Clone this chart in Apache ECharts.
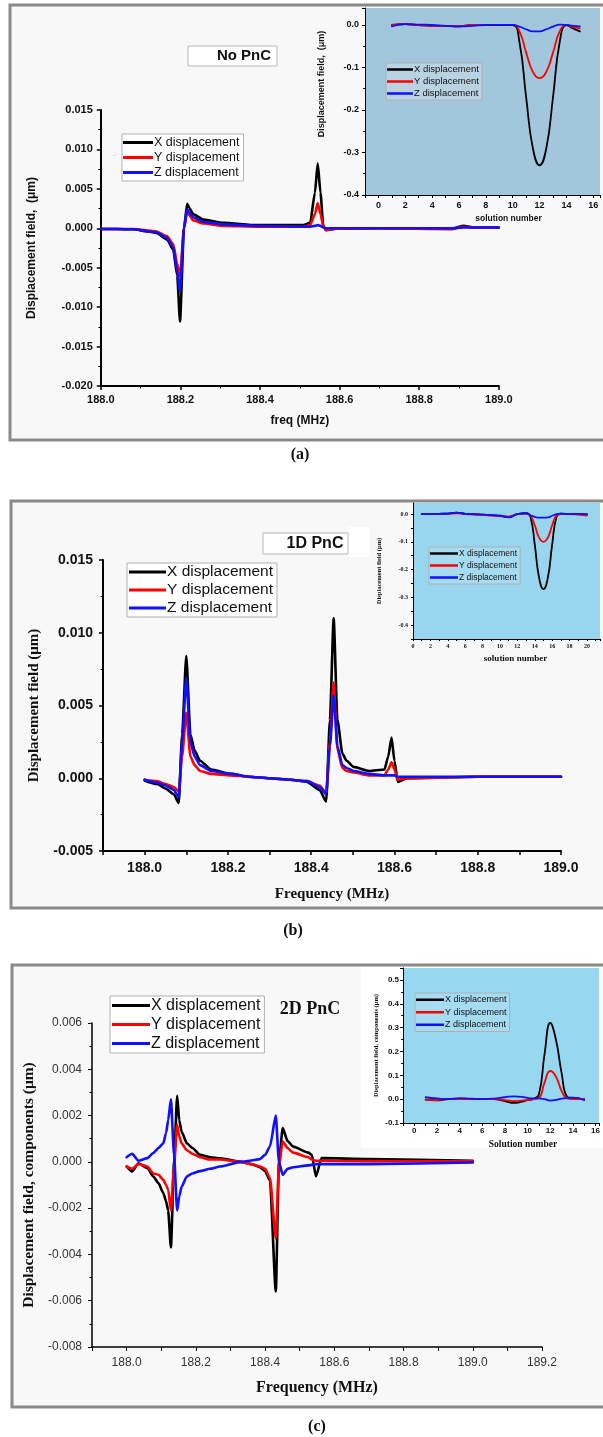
<!DOCTYPE html>
<html><head><meta charset="utf-8">
<script src="https://cdn.jsdelivr.net/npm/echarts@6/dist/echarts.min.js"></script>
<style>html,body{margin:0;padding:0;background:#fff}#c{width:603px;height:1437px}</style>
</head><body><div id="c"></div>
<script>
// ---------- DATA ----------
const seriesNames = ['X displacement', 'Y displacement', 'Z displacement'];
const panelTitles = ['No PnC', '1D PnC', '2D PnC'];
const panelLabels = ['(a)', '(b)', '(c)'];

// Panel (a) main: frequency (MHz) vs displacement (um)
const freqA = [188.0, 188.04, 188.082, 188.12, 188.14, 188.166, 188.182, 188.192, 188.199, 188.209, 188.217, 188.222, 188.232, 188.258, 188.308, 188.392, 188.509, 188.526, 188.538, 188.545, 188.552, 188.559, 188.566, 188.59, 188.7, 188.88, 188.91, 188.94, 189.0];
const xA = [-0.0001, -0.0001, -0.00013, -0.0004, -0.0006, -0.0014, -0.0027, -0.006, -0.0118, 0.0, 0.0031, 0.0026, 0.0018, 0.0011, 0.0007, 0.0004, 0.0004, 0.0007, 0.0045, 0.0082, 0.0045, 0.0003, -0.00025, -0.00005, 0.0, -0.0001, 0.0003, 0.0001, 0.0001];
const yA = [-0.0001, -0.0001, -0.0001, -0.0003, -0.0004, -0.001, -0.002, -0.0045, -0.0061, 0.0, 0.0021, 0.0017, 0.001, 0.0006, 0.0003, 0.0002, 0.0002, 0.0004, 0.0018, 0.0032, 0.0018, 0.0003, -0.0002, -0.00005, 0.0, -0.0001, 0.0002, 0.0001, 0.0001];
const zA = [-0.0001, -0.0001, -0.00013, -0.0004, -0.0005, -0.0012, -0.0024, -0.0055, -0.008, 0.0, 0.0024, 0.002, 0.0014, 0.0008, 0.0005, 0.0003, 0.0002, 0.0002, 0.0003, 0.0004, 0.0003, 0.0001, 0.0, 0.0, 0.0, 0.0, 0.0001, 0.0001, 0.0001];

// Panel (a) inset: solution number
const solA = [1, 2, 3, 4, 5, 6, 7, 8, 9, 10, 10.5, 11, 11.5, 12, 12.5, 13, 13.5, 14, 14.5, 15];
const xSolA = [0, 0.002, 0, -0.002, -0.002, -0.003, 0, 0, 0, 0, -0.04, -0.17, -0.29, -0.33, -0.29, -0.17, -0.04, 0, -0.008, -0.015];
const ySolA = [0, 0.002, 0, -0.002, -0.002, -0.003, 0, 0, 0, 0, -0.015, -0.065, -0.11, -0.125, -0.11, -0.065, -0.015, 0, -0.005, -0.008];
const zSolA = [-0.003, 0.002, 0.001, 0, -0.002, -0.003, -0.002, 0, 0, 0, -0.004, -0.01, -0.015, -0.015, -0.01, -0.004, 0.001, 0, -0.002, -0.003];

// Panel (b) main
const freqB = [188.0, 188.03, 188.05, 188.07, 188.082, 188.09, 188.1, 188.11, 188.12, 188.133, 188.16, 188.207, 188.25, 188.3, 188.35, 188.39, 188.42, 188.436, 188.445, 188.454, 188.463, 188.475, 188.485, 188.502, 188.539, 188.576, 188.585, 188.593, 188.6, 188.608, 188.63, 188.8, 189.0];
const xB = [-0.00015, -0.0004, -0.0007, -0.0011, -0.0017, 0.003, 0.0084, 0.003, 0.0019, 0.0012, 0.0006, 0.0003, 0.0001, 0.0, -0.0001, -0.00025, -0.0008, -0.0016, 0.004, 0.011, 0.004, 0.0017, 0.0012, 0.00078, 0.0005, 0.0006, 0.0015, 0.0028, 0.0012, -0.00025, 0.0, 0.0001, 0.0001];
const yB = [-0.0001, -0.0002, -0.0004, -0.0006, -0.0009, 0.0015, 0.0045, 0.0015, 0.0009, 0.0005, 0.0003, 0.0002, 0.0001, 0.0, -0.0001, -0.0002, -0.0005, -0.001, 0.0025, 0.0066, 0.002, 0.0007, 0.0005, 0.0004, 0.0002, 0.0002, 0.0006, 0.0011, 0.0006, -0.0001, 0.0, 0.0001, 0.0001];
const zB = [-0.0001, -0.0003, -0.0005, -0.0008, -0.0013, 0.0025, 0.0069, 0.0025, 0.0015, 0.0009, 0.0005, 0.0003, 0.0001, 0.0, -0.0001, -0.0002, -0.0006, -0.0011, 0.0022, 0.0057, 0.0022, 0.0009, 0.0007, 0.0005, 0.0003, 0.0002, 0.0002, 0.0002, 0.0002, 0.0001, 0.0001, 0.0001, 0.0001];

// Panel (b) inset
const solB = [1, 2, 3, 4, 5, 6, 7, 8, 9, 10, 11, 12, 13, 13.5, 14, 14.5, 15, 15.5, 16, 16.5, 17, 18, 19, 20];
const xSolB = [0, 0, 0.001, 0.002, 0.005, 0.001, 0, -0.002, -0.004, -0.006, -0.01, 0, 0.003, -0.01, -0.11, -0.23, -0.27, -0.23, -0.11, -0.01, 0.002, 0, 0, -0.002];
const ySolB = [0, 0, 0.001, 0.001, 0.003, 0, -0.002, -0.003, -0.005, -0.007, -0.009, 0, 0.002, -0.005, -0.04, -0.085, -0.1, -0.085, -0.04, -0.005, 0, 0, -0.002, -0.005];
const zSolB = [0, 0, 0.001, 0.002, 0.005, 0.001, 0, -0.002, -0.004, -0.006, -0.012, 0, 0.003, -0.004, -0.01, -0.013, -0.013, -0.012, -0.006, 0, 0.002, 0, 0.001, 0];

// Panel (c) main
const freqC = [188.0, 188.016, 188.034, 188.06, 188.077, 188.092, 188.106, 188.114, 188.12, 188.128, 188.137, 188.146, 188.152, 188.159, 188.174, 188.19, 188.212, 188.241, 188.27, 188.33, 188.36, 188.385, 188.4, 188.414, 188.431, 188.44, 188.451, 188.465, 188.481, 188.525, 188.535, 188.547, 188.563, 188.7, 189.0];
const xC = [-0.0002, -0.00042, -0.00006, -0.00027, -0.00063, -0.00092, -0.00135, -0.0017, -0.0021, -0.0037, 0.0, 0.00285, 0.0018, 0.0013, 0.0008, 0.0006, 0.0003, 0.0002, 0.00015, 0.0, -0.0001, -0.00023, -0.0004, -0.0008, -0.0056, 0.0, 0.00146, 0.0009, 0.00066, 0.0004, 0.0003, -0.00063, 0.00016, 0.00012, 0.00005];
const yC = [-0.0002, -0.0003, -0.0001, -0.0002, -0.0005, -0.00056, -0.00078, -0.001, -0.0012, -0.0021, -0.0002, 0.0016, 0.0011, 0.0008, 0.0005, 0.00035, 0.0002, 0.0001, 0.0001, 0.0, -0.0001, -0.0002, -0.0003, -0.0007, -0.0033, -0.0002, 0.00088, 0.0006, 0.0004, 0.0002, 0.0001, 0.00005, 0.00005, 0.00003, 0.00002];
const zC = [0.0002, 0.00035, 0.00005, 0.00016, 0.00038, 0.0006, 0.0008, 0.00125, 0.0018, 0.0027, 0.0003, -0.0021, -0.0015, -0.00107, -0.00063, -0.0005, -0.0004, -0.0003, -0.0002, 0.0, 0.00006, 0.00012, 0.0003, 0.00066, 0.002, 0.0, -0.00056, -0.0003, -0.00023, -0.00015, -0.00013, -0.0001, -0.0001, -0.0001, -0.00003];

// Panel (c) inset
const solC = [1, 2, 3, 4, 5, 6, 7, 8, 8.8, 9.5, 10, 10.5, 11, 11.5, 12, 12.5, 13, 13.5, 14, 15];
const xSolC = [-0.002, -0.005, 0, 0, 0, 0, 0, -0.008, -0.016, -0.01, -0.004, 0, 0.02, 0.19, 0.32, 0.25, 0.11, 0.01, 0.005, 0];
const ySolC = [-0.002, -0.004, 0, 0, 0, 0, 0, -0.004, -0.008, -0.006, -0.003, 0, 0.005, 0.07, 0.118, 0.095, 0.035, 0.003, 0, 0];
const zSolC = [0.008, 0.003, 0, 0.004, 0.002, 0, 0.002, 0.008, 0.012, 0.01, 0.005, 0.003, 0.003, 0, -0.006, -0.003, 0.002, 0.004, 0.006, -0.004];

// ---------- STYLE / BUILD ----------
const SANS = '"Liberation Sans", Arial, Helvetica, sans-serif';
const SERIF = '"Liberation Serif", "Times New Roman", serif';
const COLORS = ['#000000', '#ff0000', '#1010ff'];

function fmtFixed(d) {
  return v => (Math.abs(v) < 1e-12 ? 0 : v).toFixed(d);
}
function evenTenth(v) {
  const r = Math.round(v * 10);
  if (Math.abs(v * 10 - r) > 1e-6) return '';
  return (r % 2 === 0) ? (r / 10).toFixed(1) : '';
}
function evenInt(v) {
  const r = Math.round(v);
  if (Math.abs(v - r) > 1e-6) return '';
  return (r % 2 === 0) ? String(r) : '';
}
function tenthOnly(v) {
  const r = Math.round(v * 10);
  if (Math.abs(v * 10 - r) > 1e-6) return '';
  return (r / 10).toFixed(1);
}

function axis(gridIndex, o) {
  const lw = o.lw || 1.5;
  return {
    type: 'value', gridIndex: gridIndex, min: o.min, max: o.max, interval: o.interval,
    axisLine: { onZero: false, lineStyle: { color: '#000', width: lw } },
    axisTick: { show: true, length: o.tickLen || 4, inside: false, lineStyle: { color: '#000', width: Math.max(1, lw - 0.5) } },
    minorTick: o.minor ? { show: true, splitNumber: o.minor, length: (o.tickLen || 4) * 0.6, lineStyle: { color: '#000', width: 1 } } : { show: false },
    splitLine: { show: false },
    axisLabel: {
      formatter: o.fmt, margin: o.margin, color: o.labelColor || '#111',
      fontFamily: o.labelFont || SANS, fontWeight: o.labelWeight || 'bold', fontSize: o.labelSize,
      showMaxLabel: o.showMax !== false, showMinLabel: true, hideOverlap: false
    },
    name: o.name, nameLocation: 'middle', nameGap: o.nameGap, nameRotate: o.nameRotate,
    nameTextStyle: { fontFamily: o.nameFont || SANS, fontWeight: 'bold', fontSize: o.nameSize, color: '#111', padding: o.namePad || 0 }
  };
}

function lineSeries(idx, name, color, xs, ys, width, smooth, monotone) {
  const s = {
    type: 'line', name: name, xAxisIndex: idx, yAxisIndex: idx,
    data: xs.map((x, i) => [x, ys[i]]),
    showSymbol: false, symbol: 'none', smooth: smooth || false,
    lineStyle: { color: color, width: width, join: 'round', cap: 'round' }, itemStyle: { color: color },
    emphasis: { disabled: true }, silent: true, animation: false, z: 3
  };
  if (monotone) s.smoothMonotone = 'x';
  return s;
}

const panels = [
  { xs: freqA, ys: [xA, yA, zA], w: 2.6, smooth: 0.2, mono: true },
  { xs: solA, ys: [xSolA, ySolA, zSolA], w: 1.8, smooth: 0.5, mono: false },
  { xs: freqB, ys: [xB, yB, zB], w: 2.6, smooth: 0.2, mono: true },
  { xs: solB, ys: [xSolB, ySolB, zSolB], w: 1.8, smooth: 0.5, mono: false },
  { xs: freqC, ys: [xC, yC, zC], w: 2.6, smooth: 0.2, mono: true },
  { xs: solC, ys: [xSolC, ySolC, zSolC], w: 1.8, smooth: 0.5, mono: false }
];

const series = [];
panels.forEach((p, gi) => {
  p.ys.forEach((ys, si) => series.push(lineSeries(gi, seriesNames[si], COLORS[si], p.xs, ys, p.w, p.smooth, p.mono)));
});

const grid = [
  { left: 100.8, top: 110, width: 398, height: 276 },
  { left: 365, top: 8, width: 238, height: 187, show: true, backgroundColor: '#a2c6db', borderWidth: 0 },
  { left: 103, top: 560, width: 458, height: 291 },
  { left: 413, top: 503, width: 190, height: 136, show: true, backgroundColor: '#98d6ef', borderWidth: 0 },
  { left: 92, top: 1023, width: 450, height: 324 },
  { left: 403, top: 968, width: 200, height: 155, show: true, backgroundColor: '#97d7ef', borderWidth: 0 }
];

const xAxis = [
  axis(0, { min: 188.0, max: 189.0, interval: 0.2, minor: 2, fmt: fmtFixed(1), labelSize: 11, margin: 8, lw: 2,
            name: 'freq (MHz)', nameGap: 29, nameSize: 12 }),
  axis(1, { min: -1, max: 16.5, interval: 1, fmt: evenInt, labelSize: 9, margin: 6, lw: 1, tickLen: 3,
            name: 'solution number', nameGap: 19, nameSize: 8.5, namePad: [0, 0, 0, 52] }),
  axis(2, { min: 187.9, max: 189.0, interval: 0.1, fmt: evenTenth, labelSize: 14, margin: 10, lw: 2,
            name: 'Frequency (MHz)', nameGap: 36, nameSize: 15, nameFont: SERIF }),
  axis(3, { min: 0, max: 21.5, interval: 1, fmt: evenInt, labelSize: 6, margin: 4, lw: 1, tickLen: 2,
            labelFont: SERIF, name: 'solution number', nameGap: 15, nameSize: 9, nameFont: SERIF, namePad: [0, 0, 0, 18] }),
  axis(4, { min: 187.9, max: 189.2, interval: 0.1, fmt: evenTenth, labelSize: 12, labelWeight: 'normal', labelColor: '#333',
            margin: 10, lw: 1.5, name: 'Frequency (MHz)', nameGap: 33, nameSize: 16, nameFont: SERIF }),
  axis(5, { min: -1, max: 16.3, interval: 1, fmt: evenInt, labelSize: 8, margin: 4, lw: 1, tickLen: 3,
            name: 'Solution number', nameGap: 17, nameSize: 9.5, nameFont: SERIF, namePad: [0, 0, 0, 44] })
];

const yAxis = [
  axis(0, { min: -0.02, max: 0.015, interval: 0.005, minor: 2, fmt: fmtFixed(3), labelSize: 11, margin: 8, lw: 2,
            name: 'Displacement field,  (\u03bcm)', nameGap: 63, nameSize: 12, nameRotate: 90 }),
  axis(1, { min: -0.4, max: 0.04, interval: 0.1, minor: 2, fmt: tenthOnly, showMax: false, labelSize: 9, margin: 6, lw: 1, tickLen: 3,
            name: 'Displacement field,  (\u03bcm)', nameGap: 39, nameSize: 9, nameRotate: 90, namePad: [0, 0, 0, 35] }),
  axis(2, { min: -0.005, max: 0.015, interval: 0.005, minor: 2, fmt: fmtFixed(3), labelSize: 14, margin: 10, lw: 2,
            name: 'Displacement field (\u03bcm)', nameGap: 61, nameSize: 15, nameFont: SERIF, nameRotate: 90 }),
  axis(3, { min: -0.45, max: 0.04, interval: 0.05, fmt: tenthOnly, showMax: false, labelSize: 6, margin: 5, lw: 1, tickLen: 2,
            labelFont: SERIF, name: 'Displacement field (\u03bcm)', nameGap: 30, nameSize: 6.5, nameFont: SERIF, nameRotate: 90 }),
  axis(4, { min: -0.008, max: 0.006, interval: 0.002, minor: 2, fmt: fmtFixed(3), labelSize: 12, labelWeight: 'normal', labelColor: '#333',
            margin: 10, lw: 1.5, name: 'Displacement field, components (\u03bcm)', nameGap: 52, nameSize: 15.5, nameFont: SERIF, nameRotate: 90 }),
  axis(5, { min: -0.1, max: 0.55, interval: 0.1, minor: 2, fmt: tenthOnly, showMax: false, labelSize: 8, margin: 4, lw: 1, tickLen: 3,
            name: 'Displacement field, components (\u03bcm)', nameGap: 23, nameSize: 6.5, nameFont: SERIF, nameRotate: 90 })
];

function legendCfg(o) {
  return {
    orient: 'vertical', left: o.left, top: o.top, data: seriesNames, icon: 'rect',
    itemWidth: o.iw, itemHeight: o.ih || 3, itemGap: o.gap, padding: o.pad,
    backgroundColor: o.bg, borderColor: o.bc || '#b0b0b0', borderWidth: 1, selectedMode: false,
    textStyle: { fontFamily: o.font || SANS, fontSize: o.fs, color: '#111', lineHeight: o.lh, padding: [0, 0, 0, -4] },
    z: 10
  };
}

const legend = [
  legendCfg({ left: 122, top: 134, iw: 30, gap: 2, pad: [2, 4, 2, 1], bg: '#ffffff', fs: 12.5, lh: 13 }),
  legendCfg({ left: 386, top: 63, iw: 26, gap: 1, pad: [1, 3, 1, 1], bg: 'rgba(200,220,232,0.6)', fs: 9.5, lh: 11, ih: 2.5 }),
  legendCfg({ left: 127, top: 563, iw: 37, gap: 2, pad: [1, 4, 1, 2], bg: '#ffffff', fs: 15.5, lh: 16 }),
  legendCfg({ left: 429, top: 547, iw: 28, gap: 1, pad: [1, 3, 1, 1], bg: 'rgba(180,225,245,0.5)', fs: 8.5, lh: 11, ih: 2.5 }),
  legendCfg({ left: 110, top: 996, iw: 38, gap: 2, pad: [1, 4, 1, 2], bg: '#ffffff', fs: 16, lh: 17 }),
  legendCfg({ left: 415, top: 993, iw: 28, gap: 1, pad: [1, 3, 1, 1], bg: 'rgba(180,225,245,0.5)', fs: 9, lh: 11.5, ih: 2.5 })
];

const graphic = [
  { type: 'rect', z: -10, shape: { x: 10, y: 5, width: 600, height: 435 }, style: { fill: '#f8f8f8', stroke: '#8a8a8a', lineWidth: 3 }, silent: true },
  { type: 'rect', z: -10, shape: { x: 11, y: 501, width: 599, height: 407 }, style: { fill: '#f8f8f8', stroke: '#8a8a8a', lineWidth: 3 }, silent: true },
  { type: 'rect', z: -10, shape: { x: 12, y: 965, width: 598, height: 442 }, style: { fill: '#f8f8f8', stroke: '#8a8a8a', lineWidth: 3 }, silent: true },
  { type: 'rect', z: -9, shape: { x: 361, y: 967, width: 242, height: 181 }, style: { fill: '#ffffff' }, silent: true },
  { type: 'rect', z: -9, shape: { x: 348, y: 527, width: 22, height: 30 }, style: { fill: '#ffffff' }, silent: true },
  // panel title boxes
  { type: 'rect', z: 5, shape: { x: 188, y: 46, width: 89, height: 20 }, style: { fill: '#ffffff', stroke: '#b8b8b8', lineWidth: 1 }, silent: true },
  { type: 'text', z: 6, x: 244, y: 56, style: { text: panelTitles[0], font: 'bold 15px ' + SANS, fill: '#111', textAlign: 'center', textVerticalAlign: 'middle', verticalAlign: 'middle' }, silent: true },
  { type: 'rect', z: 5, shape: { x: 263, y: 533, width: 85, height: 21 }, style: { fill: '#ffffff', stroke: '#b8b8b8', lineWidth: 1 }, silent: true },
  { type: 'text', z: 6, x: 315, y: 544, style: { text: panelTitles[1], font: 'bold 16px ' + SANS, fill: '#111', textAlign: 'center', textVerticalAlign: 'middle', verticalAlign: 'middle' }, silent: true },
  { type: 'text', z: 6, x: 310, y: 1009, style: { text: panelTitles[2], font: 'bold 18px ' + SERIF, fill: '#111', textAlign: 'center', textVerticalAlign: 'middle', verticalAlign: 'middle' }, silent: true },
  // panel letters
  { type: 'text', z: 6, x: 300, y: 455, style: { text: panelLabels[0], font: 'bold 16px ' + SERIF, fill: '#111', textAlign: 'center', textVerticalAlign: 'middle', verticalAlign: 'middle' }, silent: true },
  { type: 'text', z: 6, x: 293, y: 931, style: { text: panelLabels[1], font: 'bold 16px ' + SERIF, fill: '#111', textAlign: 'center', textVerticalAlign: 'middle', verticalAlign: 'middle' }, silent: true },
  { type: 'text', z: 6, x: 317, y: 1427, style: { text: panelLabels[2], font: 'bold 16px ' + SERIF, fill: '#111', textAlign: 'center', textVerticalAlign: 'middle', verticalAlign: 'middle' }, silent: true }
];

const chart = echarts.init(document.getElementById('c'), null, { renderer: 'canvas', width: 603, height: 1437 });
chart.setOption({
  backgroundColor: '#ffffff',
  animation: false,
  grid: grid, xAxis: xAxis, yAxis: yAxis, legend: legend, series: series, graphic: graphic,
  tooltip: { show: false }
});
</script></body></html>
